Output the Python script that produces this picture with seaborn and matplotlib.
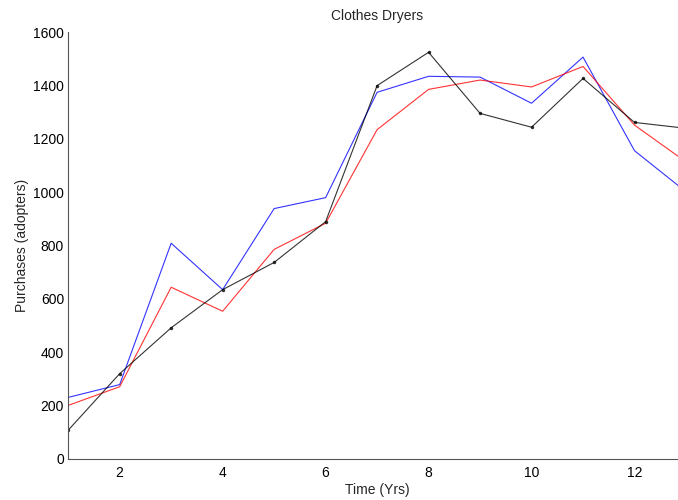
import matplotlib
matplotlib.use("Agg")
import matplotlib.pyplot as plt
import seaborn as sns
import pandas as pd

# Annual purchases of clothes dryers: observed adopters and two model fits
years = [1, 2, 3, 4, 5, 6, 7, 8, 9, 10, 11, 12, 13]
actual = [108, 320, 492, 635, 737, 890, 1400, 1525, 1296, 1244, 1427, 1262, 1240]
model_blue = [231, 279, 809, 635, 939, 980, 1375, 1435, 1432, 1334, 1507, 1156, 1002]
model_red = [201, 271, 644, 554, 786, 884, 1235, 1386, 1421, 1395, 1472, 1252, 1114]

df = pd.DataFrame({"year": years, "actual": actual,
                   "blue": model_blue, "red": model_red})

sns.set_style("white")
plt.rcParams["font.family"] = ["Liberation Sans", "DejaVu Sans"]

fig = plt.figure(figsize=(6.78, 5.0), dpi=100)
ax = fig.add_axes([68.2 / 678, 41 / 500, 617.8 / 678, 426.7 / 500])

sns.lineplot(data=df, x="year", y="blue", ax=ax, color="#0000ff", lw=0.8, alpha=0.8)
sns.lineplot(data=df, x="year", y="red", ax=ax, color="#ff0000", lw=0.8, alpha=0.8)
sns.lineplot(data=df, x="year", y="actual", ax=ax, color="#000000", lw=0.8, alpha=0.8,
             marker="o", markersize=2.5, markeredgewidth=0)

ax.set_xlim(1, 13)
ax.set_ylim(0, 1600)
ax.set_xticks([2, 4, 6, 8, 10, 12])
ax.set_yticks(range(0, 1601, 200))

ax.set_title("Clothes Dryers", fontsize=10, pad=9)
ax.set_xlabel("Time (Yrs)", fontsize=10, labelpad=2)
ax.set_ylabel("Purchases (adopters)", fontsize=10, labelpad=3)

ax.tick_params(direction="in", length=4.5, width=0.7, colors="#555555",
               labelcolor="black", labelsize=10)
ax.tick_params(axis="x", pad=5)
ax.tick_params(axis="y", pad=3)

for side in ("top", "right"):
    ax.spines[side].set_visible(False)
for side in ("left", "bottom"):
    ax.spines[side].set_color("#555555")
    ax.spines[side].set_linewidth(0.8)

fig.savefig("out.png", dpi=100)
